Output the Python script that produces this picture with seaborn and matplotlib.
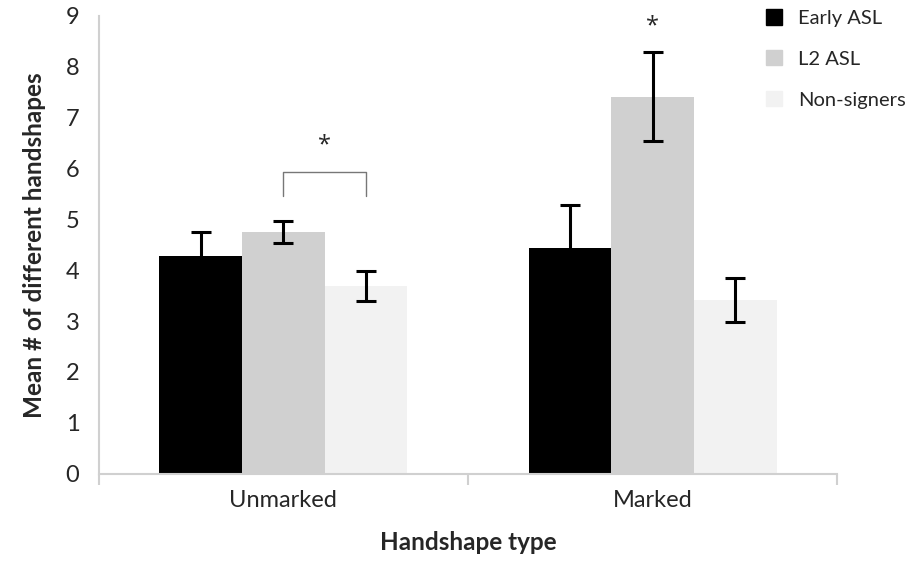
import seaborn as sns
import matplotlib.pyplot as plt
import pandas as pd

types = ["Unmarked", "Marked"]
groups = ["Early ASL", "L2 ASL", "Non-signers"]
means = {
    "Early ASL": [4.27, 4.44],
    "L2 ASL": [4.75, 7.41],
    "Non-signers": [3.69, 3.42],
}
errors = {
    "Early ASL": [0.48, 0.85],
    "L2 ASL": [0.21, 0.87],
    "Non-signers": [0.29, 0.43],
}
colors = ["#000000", "#d0d0d0", "#f2f2f2"]

rows = []
for g in groups:
    for t, m in zip(types, means[g]):
        rows.append({"Handshape type": t, "Group": g, "Mean": m})
df = pd.DataFrame(rows)

sns.set_style("white")
plt.rcParams["font.family"] = ["Lato", "DejaVu Sans"]

fig = plt.figure(figsize=(9.15, 5.62), dpi=100)
ax = fig.add_axes([0.108, 0.157, 0.807, 0.815])

sns.barplot(data=df, x="Handshape type", y="Mean", hue="Group",
            order=types, hue_order=groups, palette=colors,
            width=0.672, saturation=1, ax=ax, legend=False)

# error bars at the bar centres
centres = {}
for g, cont in zip(groups, ax.containers):
    for i, bar in enumerate(cont.patches):
        bar.set_edgecolor("none")
        cx = bar.get_x() + bar.get_width() / 2
        centres[(g, types[i])] = cx
        ax.errorbar(cx, bar.get_height(), yerr=errors[g][i], fmt="none",
                    ecolor="black", elinewidth=2.2, capsize=7, capthick=2.2)

# significance bracket, unmarked L2 vs non-signers
x1 = centres[("L2 ASL", "Unmarked")]
x2 = centres[("Non-signers", "Unmarked")]
ax.plot([x1, x1, x2, x2], [5.45, 5.93, 5.93, 5.45], color="#777777", lw=1)
star = dict(ha="center", va="center", fontsize=17, family="Open Sans")
ax.text((x1 + x2) / 2, 6.45, "*", **star)
ax.text(centres[("L2 ASL", "Marked")], 8.8, "*", **star)

ax.set_ylim(0, 9)
ax.set_xlim(-0.5, 1.5)
ax.set_yticks(range(10))
ax.set_xticks([-0.5, 0.5, 1.5], minor=True)
ax.tick_params(axis="x", which="minor", length=8, color="#d0d0d0", width=1.5,
               direction="out", bottom=True)
ax.tick_params(axis="x", which="major", length=0, labelsize=17, pad=12)
ax.tick_params(axis="y", length=5, color="#d0d0d0", width=1.5, direction="out",
               labelsize=17, pad=9)
for side in ["top", "right"]:
    ax.spines[side].set_visible(False)
for side in ["left", "bottom"]:
    ax.spines[side].set_color("#d0d0d0")
    ax.spines[side].set_linewidth(1.5)

ax.set_xlabel("Handshape type", fontsize=17.5, fontweight="bold", labelpad=14)
ax.set_ylabel("Mean # of different handshapes", fontsize=17.5, fontweight="bold", labelpad=14)

handles = [plt.Rectangle((0, 0), 1, 1, color=c) for c in colors]
fig.legend(handles, groups, loc="upper left", bbox_to_anchor=(0.817, 1.016),
           frameon=False, fontsize=14.5, handlelength=0.8, handleheight=0.8,
           labelspacing=1.15, handletextpad=0.8)

plt.savefig("out.png", dpi=100)
